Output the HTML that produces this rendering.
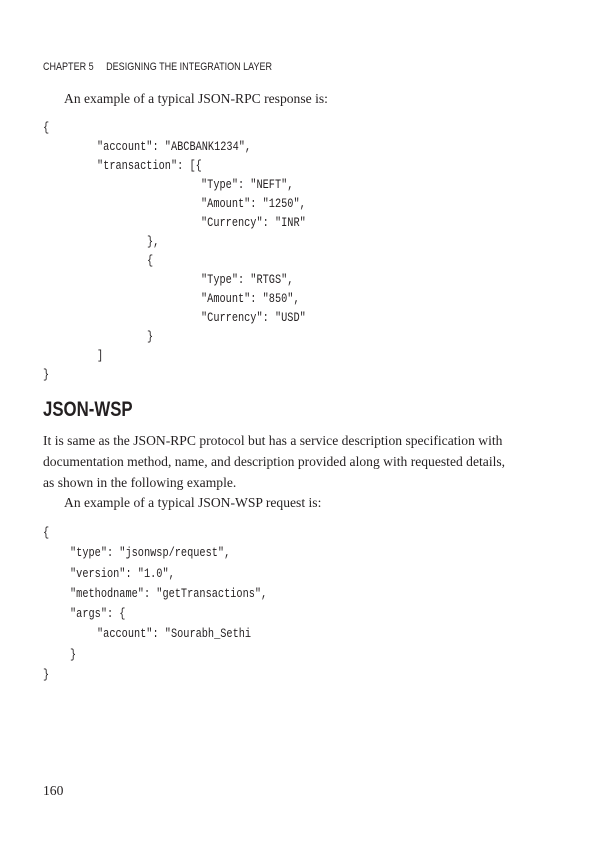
<!DOCTYPE html>
<html><head><meta charset="utf-8"><style>
body{margin:0;width:600px;height:857px;background:#fff;position:relative;overflow:hidden;color:#231f20}
.a{position:absolute;white-space:pre;line-height:1}
.h{font-family:"Liberation Sans",sans-serif;font-size:11px;transform:scaleX(.82);transform-origin:left}
.s{font-family:"Liberation Serif",serif;font-size:13.6px}
.c{font-family:"Liberation Mono",monospace;font-size:13px;transform:scaleX(.79);transform-origin:left}
.t{font-family:"Liberation Sans",sans-serif;font-size:21px;font-weight:bold;transform:scaleX(.8);transform-origin:left}
</style></head><body>
<div class="a h" style="left:43px;top:62px">CHAPTER 5&nbsp;&nbsp;&nbsp;&nbsp;&nbsp;DESIGNING THE INTEGRATION LAYER</div>
<div class="a s" style="left:64px;top:92px">An example of a typical JSON-RPC response is:</div>
<div class="a c" style="left:43px;top:121px">{</div>
<div class="a c" style="left:97px;top:140px">"account": "ABCBANK1234",</div>
<div class="a c" style="left:97px;top:159px">"transaction": [{</div>
<div class="a c" style="left:201px;top:178px">"Type": "NEFT",</div>
<div class="a c" style="left:201px;top:197px">"Amount": "1250",</div>
<div class="a c" style="left:201px;top:216px">"Currency": "INR"</div>
<div class="a c" style="left:147px;top:235px">},</div>
<div class="a c" style="left:147px;top:254px">{</div>
<div class="a c" style="left:201px;top:273px">"Type": "RTGS",</div>
<div class="a c" style="left:201px;top:292px">"Amount": "850",</div>
<div class="a c" style="left:201px;top:311px">"Currency": "USD"</div>
<div class="a c" style="left:147px;top:330px">}</div>
<div class="a c" style="left:97px;top:349px">]</div>
<div class="a c" style="left:43px;top:368px">}</div>
<div class="a t" style="left:43px;top:399px">JSON-WSP</div>
<div class="a s" style="left:43px;top:434px">It is same as the JSON-RPC protocol but has a service description specification with</div>
<div class="a s" style="left:43px;top:455px">documentation method, name, and description provided along with requested details,</div>
<div class="a s" style="left:43px;top:476px">as shown in the following example.</div>
<div class="a s" style="left:64px;top:496px">An example of a typical JSON-WSP request is:</div>
<div class="a c" style="left:43px;top:526px">{</div>
<div class="a c" style="left:70px;top:546px">"type": "jsonwsp/request",</div>
<div class="a c" style="left:70px;top:567px">"version": "1.0",</div>
<div class="a c" style="left:70px;top:587px">"methodname": "getTransactions",</div>
<div class="a c" style="left:70px;top:607px">"args": {</div>
<div class="a c" style="left:97px;top:627px">"account": "Sourabh_Sethi</div>
<div class="a c" style="left:70px;top:648px">}</div>
<div class="a c" style="left:43px;top:668px">}</div>
<div class="a s" style="left:43px;top:784px">160</div>
</body></html>
